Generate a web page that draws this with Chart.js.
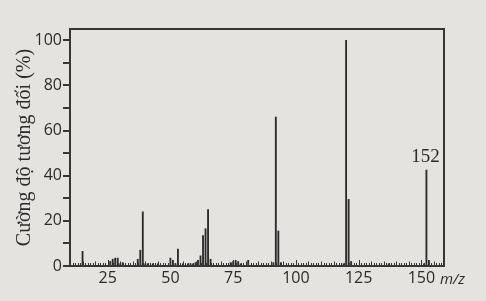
<!DOCTYPE html>
<html>
<head>
<meta charset="utf-8">
<script src="https://cdn.jsdelivr.net/npm/chart.js@4/dist/chart.umd.min.js"></script>
<style>
  html, body { margin: 0; padding: 0; background: #e5e3e0; }
  #wrap { width: 486px; height: 301px; }
</style>
</head>
<body>
<div id="wrap"><canvas id="chart" width="486" height="301"></canvas></div>
<script>
// m/z và cường độ tương đối (%) đọc từ phổ
const mzValues = [15, 26, 27, 28, 29, 30, 31, 37, 38, 39, 40, 41, 43, 45, 50, 51, 52, 53, 55, 57, 58, 59, 60, 61, 62, 63, 64, 65, 66,
  74, 75, 76, 77, 78, 81, 91, 92, 93, 94, 119, 120, 121, 122, 137, 151, 152, 153];
const intensities = [6.5, 2, 3, 3.5, 3.5, 1, 1.5, 3, 7, 24, 1, 1, 1, 1, 3.5, 2.5, 1, 7.5, 1, 1, 1, 1, 1.5, 2.5, 4.5, 13.5, 16.5, 25, 3,
  1.5, 2, 2.5, 2, 1, 2.5, 1.5, 66, 15.5, 1.5, 1, 100, 29.5, 2, 1, 1, 42.5, 2.5];
const xTickLabels = [25, 50, 75, 100, 125, 150];
const yTickLabels = [0, 20, 40, 60, 80, 100];
const labelledPeak = 152;

const ink = '#2b2b2b';

// nền giấy
const paperBg = {
  id: 'paperBg',
  beforeDraw(chart) {
    const ctx = chart.ctx;
    ctx.save();
    ctx.fillStyle = '#e5e3e0';
    ctx.fillRect(0, 0, chart.width, chart.height);
    ctx.restore();
  }
};

// khung, vạch chia trục, nhãn m/z và 152
const frameAndLabels = {
  id: 'frameAndLabels',
  afterDraw(chart) {
    const ctx = chart.ctx;
    const area = chart.chartArea;
    const xs = chart.scales.x;
    const ys = chart.scales.y;
    const L = Math.round(area.left), R = Math.round(area.right);
    const T = Math.round(area.top), B = Math.round(area.bottom);
    ctx.save();
    ctx.fillStyle = '#363636';
    ctx.fillRect(L - 1, T - 1, R - L + 2, 2);
    ctx.fillRect(L - 1, B - 1, R - L + 2, 2);
    ctx.fillRect(L - 1, T - 1, 2, B - T + 2);
    ctx.fillRect(R - 1, T - 1, 2, B - T + 2);

    // vạch chia trục y hướng ra ngoài
    for (let v = 0; v <= 100; v += 10) {
      const py = Math.round(ys.getPixelForValue(v));
      ctx.fillRect(L - 7, py - 1, 6, 2);
    }

    // vạch chia nhỏ trục x hướng lên
    for (let m = Math.ceil(xs.min) + 1; m < xs.max; m++) {
      const px = Math.round(xs.getPixelForValue(m));
      let len = 2;
      if (m % 25 === 0) len = 5;
      else if (m % 5 === 0) len = 3.5;
      ctx.fillRect(px, B - 1 - len, 1, len);
    }

    ctx.fillStyle = ink;
    ctx.font = 'italic 15px "Open Sans", sans-serif';
    ctx.textAlign = 'left';
    ctx.textBaseline = 'middle';
    ctx.fillText('m/z', 440, 280);

    const i = mzValues.indexOf(labelledPeak);
    ctx.font = '19px "Liberation Serif", serif';
    ctx.textAlign = 'center';
    ctx.textBaseline = 'bottom';
    ctx.fillText(String(labelledPeak), xs.getPixelForValue(labelledPeak) - 1, ys.getPixelForValue(intensities[i]) - 4);
    ctx.restore();
  }
};

new Chart(document.getElementById('chart'), {
  type: 'bar',
  data: {
    datasets: [{
      data: mzValues.map((m, i) => ({ x: m, y: intensities[i] })),
      backgroundColor: ink,
      borderWidth: 0,
      barThickness: 1.2
    }]
  },
  options: {
    responsive: false,
    animation: false,
    layout: { padding: { left: 0, right: 42, top: 29, bottom: 15 } },
    plugins: { legend: { display: false }, tooltip: { enabled: false } },
    scales: {
      x: {
        type: 'linear',
        offset: false,
        min: 10,
        max: 159,
        afterBuildTicks(scale) {
          scale.ticks = xTickLabels.map(v => ({ value: v }));
        },
        afterFit(scale) { scale.height = 20; },
        grid: { display: false, drawTicks: false },
        border: { display: false },
        ticks: {
          color: ink,
          padding: 3,
          maxRotation: 0,
          font: { family: '"Open Sans", sans-serif', size: 16 }
        }
      },
      y: {
        min: 0,
        max: 105,
        afterBuildTicks(scale) {
          const t = [];
          for (let v = 0; v <= 100; v += 10) t.push({ value: v });
          scale.ticks = t;
        },
        afterFit(scale) { scale.width = 70; },
        grid: { display: false, drawTicks: false },
        border: { display: false },
        ticks: {
          color: ink,
          padding: 8,
          font: { family: '"Open Sans", sans-serif', size: 16 },
          callback: v => yTickLabels.includes(v) ? String(v) : ''
        },
        title: {
          display: true,
          text: 'Cường độ tương đối (%)',
          color: ink,
          padding: { top: 13, bottom: 0 },
          font: { family: '"Liberation Serif", serif', size: 20 }
        }
      }
    }
  },
  plugins: [paperBg, frameAndLabels]
});
</script>
</body>
</html>
